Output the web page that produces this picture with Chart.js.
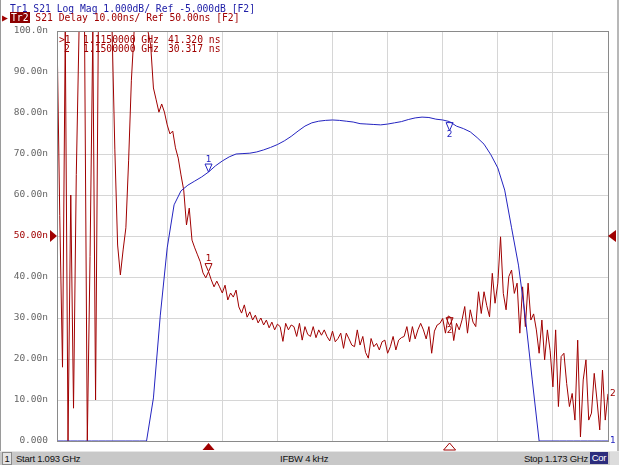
<!DOCTYPE html>
<html>
<head>
<meta charset="utf-8">
<script src="https://cdn.jsdelivr.net/npm/chart.js@4.4.0/dist/chart.umd.min.js"></script>
<style>
  html, body { margin: 0; padding: 0; background: #fff; }
  #screen { position: relative; width: 619px; height: 465px; overflow: hidden; background: #fff;
            font-family: "DejaVu Sans Mono", monospace; }
  #screen canvas { position: absolute; left: 0; top: 0; }
  .t { position: absolute; white-space: pre; font-size: 9.7px; line-height: 9px; }
  .tr1 { color: #2020a8; }
  .tr2 { color: #a00000; }
  #tr2box { background: #8c0000; color: #fff; padding: 0 1px; }
  #edgeL { position: absolute; left: 0; top: 0; width: 1px; height: 451px; background: #9a9a9a; }
  #edgeR { position: absolute; left: 617px; top: 0; width: 2px; height: 451px; background: #b8b8b8; }
  #status { position: absolute; left: 0; top: 451px; width: 619px; height: 14px; background: #c8c8c8;
            border-top: 1px solid #e6e6e6; box-sizing: border-box;
            font-family: "Liberation Sans", Arial, sans-serif; font-size: 9.5px; letter-spacing: -0.25px; color: #111; }
  #status span { position: absolute; top: 1px; line-height: 12px; white-space: pre; }
  #chNum { left: 2px; width: 8px; height: 11px; background: #e4e4e4; border: 1px solid #8a8a8a;
           text-align: center; top: 0 !important; }
  #cor { left: 590px; width: 18px; height: 12px; background: #2c2c7c; color: #fff; text-align: center; top: 0 !important; }
  #tail { left: 610px; width: 9px; height: 13px; background: #dcdcdc; top: 0 !important; }
</style>
</head>
<body>
<div id="screen">
  <canvas id="vna" width="619" height="465"></canvas>
  <div id="edgeL"></div>
  <div id="edgeR"></div>
  <div class="t tr1" style="left:10px; top:4px;">Tr1 S21 Log Mag 1.000dB/ Ref -5.000dB [F2]</div>
  <div class="t tr2" style="left:2px; top:13px;">&#9654;</div>
  <div class="t tr2" style="left:10px; top:13px;"><span id="tr2box">Tr2</span> S21 Delay 10.00ns/ Ref 50.00ns [F2]</div>
  <div class="t tr2" style="left:59px; top:35px;">&gt;1</div>
  <div class="t tr2" style="left:83px; top:35px;">1.1150000 GHz</div>
  <div class="t tr2" style="left:168px; top:35px;">41.320 ns</div>
  <div class="t tr2" style="left:64px; top:44px;">2</div>
  <div class="t tr2" style="left:83px; top:44px;">1.1500000 GHz</div>
  <div class="t tr2" style="left:168px; top:44px;">30.317 ns</div>
  <div id="status">
    <span id="chNum">1</span>
    <span style="left:16px;">Start 1.093 GHz</span>
    <span style="left:280px;">IFBW 4 kHz</span>
    <span style="right:31px;">Stop 1.173 GHz</span>
    <span id="cor">Cor</span>
    <span id="tail"></span>
  </div>
</div>
<script>
// 掃引条件 (MHz)
const startMHz = 1093;
const stopMHz = 1173;
const xTickMHz = [1093, 1101, 1109, 1117, 1125, 1133, 1141, 1149, 1157, 1165, 1173];
const yTickNs = [0, 10, 20, 30, 40, 50, 60, 70, 80, 90, 100];

// Tr2: S21 群遅延 (ns), 201 点 (表示範囲外は 0 / 100 でクリップ)
const delayNs = [
  100, 55, 18, 100, 0, 60, 8, 65, 100, 100,
  100, 0, 45, 100, 10, 100, 100, 100, 100, 100,
  100, 71, 47.8, 40.5, 46.6, 52, 68.5, 88, 100, 100,
  100, 100, 100, 100, 96.6, 86.1, 83.2, 80.2, 82.2, 80.2,
  77.1, 74.9, 75.6, 71.5, 69.0, 64.9, 61.2, 52.7, 56.8, 49.0,
  47.1, 45.4, 43.7, 41.0, 39.8, 41.3, 39.3, 37.6, 39.0, 37.6,
  36.1, 38.0, 34.4, 36.1, 35.1, 36.8, 32.7, 31.2, 33.2, 30.2,
  31.5, 29.5, 30.7, 28.8, 30.0, 28.3, 29.5, 27.6, 29.0, 27.1,
  28.5, 27.9, 24.3, 28.7, 27.1, 28.3, 27.9, 25.5, 28.7, 24.6,
  27.9, 26.0, 25.5, 27.9, 25.2, 27.1, 25.8, 27.1, 25.5, 24.4,
  26.8, 24.2, 25.0, 26.3, 22.6, 26.3, 24.9, 23.4, 23.0, 27.1,
  23.4, 25.5, 21.6, 20.2, 25.0, 23.0, 23.8, 22.2, 24.2, 24.6,
  21.4, 23.0, 25.5, 22.2, 24.6, 25.2, 25.5, 27.9, 24.2, 27.9,
  24.9, 27.1, 28.7, 27.1, 24.9, 27.9, 21.4, 26.8, 28.3, 28.7,
  29.9, 26.3, 30.5, 30.1, 24.5, 28.7, 27.1, 29.5, 32.8, 26.3,
  32.0, 29.0, 27.9, 36.4, 31.1, 36.4, 33.0, 30.3, 40.9, 33.6,
  38.5, 49.8, 36.0, 32.0, 40.1, 41.7, 36.0, 38.5, 26.3, 37.6,
  27.9, 38.5, 29.5, 31.0, 27.1, 21.4, 29.5, 19.8, 27.1, 22.0,
  13.2, 27.1, 8.4, 20.6, 21.4, 14.0, 8.4, 11.6, 5.1, 24.6,
  1.0, 14.9, 19.8, 5.1, 6.8, 16.5, 10.0, 2.7, 17.3, 5.1,
  11.5
];

// Tr1: S21 振幅 (dB), 1 MHz 間隔 81 点 (-10 dB 以下は下端でクリップ)
const logMagDb = [
  -10, -10, -10, -10, -10, -10, -10, -10, -10, -10,
  -10, -10, -10, -10, -8.95, -6.93, -5.29, -4.24, -3.90, -3.76,
  -3.66, -3.56, -3.44, -3.29, -3.17, -3.07, -3.00, -2.99, -2.98, -2.95,
  -2.90, -2.84, -2.77, -2.68, -2.57, -2.44, -2.32, -2.24, -2.20, -2.18,
  -2.17, -2.18, -2.20, -2.22, -2.26, -2.27, -2.28, -2.29, -2.27, -2.24,
  -2.21, -2.16, -2.12, -2.10, -2.11, -2.15, -2.17, -2.21, -2.32, -2.38,
  -2.46, -2.60, -2.76, -3.02, -3.34, -3.88, -4.80, -5.71, -6.98, -8.51,
  -10, -10, -10, -10, -10, -10, -10, -10, -10, -10,
  -10
];

// マーカー
const markerMHz = [1115, 1150];
const markerDelayNs = [41.320, 30.317];

const RED = '#a00000';
const BLUE = '#2424c0';

const stepOf = arr => (stopMHz - startMHz) / (arr.length - 1);
const delayPts = delayNs.map((v, i) => ({ x: startMHz + i * stepOf(delayNs), y: v }));
const magPts = logMagDb.map((v, i) => ({ x: startMHz + i * stepOf(logMagDb), y: v }));

// 振幅トレース上のマーカー値 (線形補間)
function interp(pts, f) {
  for (let i = 1; i < pts.length; i++) {
    if (pts[i].x >= f) {
      const a = pts[i - 1], b = pts[i];
      return a.y + (b.y - a.y) * (f - a.x) / (b.x - a.x);
    }
  }
  return pts[pts.length - 1].y;
}

function triangle(ctx, pts, fill, color) {
  ctx.beginPath();
  ctx.moveTo(pts[0][0], pts[0][1]);
  ctx.lineTo(pts[1][0], pts[1][1]);
  ctx.lineTo(pts[2][0], pts[2][1]);
  ctx.closePath();
  if (fill) { ctx.fillStyle = color; ctx.fill(); }
  else { ctx.strokeStyle = color; ctx.lineWidth = 1; ctx.stroke(); }
}

// マーカー・基準位置の三角形などを描くプラグイン
const vnaOverlay = {
  id: 'vnaOverlay',
  afterDatasetsDraw(chart) {
    const { ctx, chartArea: { left, right, top, bottom } } = chart;
    const xs = chart.scales.x, yd = chart.scales.y, ym = chart.scales.yb;
    ctx.save();

    // 枠
    ctx.strokeStyle = '#8a8a8a';
    ctx.lineWidth = 1;
    ctx.strokeRect(Math.round(left) + 0.5, Math.round(top) + 0.5, Math.round(right - left), Math.round(bottom - top));

    ctx.font = '9px "DejaVu Sans"';
    ctx.textAlign = 'center';

    markerMHz.forEach((f, i) => {
      const px = xs.getPixelForValue(f);
      const traces = [
        { y: yd.getPixelForValue(markerDelayNs[i]), c: RED },
        { y: ym.getPixelForValue(interp(magPts, f)), c: BLUE }
      ];
      traces.forEach(t => {
        if (i === 0) {
          triangle(ctx, [[px - 3.5, t.y - 8], [px + 3.5, t.y - 8], [px, t.y]], false, t.c);
          ctx.textBaseline = 'bottom';
          ctx.fillStyle = t.c;
          ctx.fillText(String(i + 1), px, t.y - 8);
        } else {
          triangle(ctx, [[px - 3.5, t.y + 1], [px + 3.5, t.y + 1], [px, t.y + 9]], false, t.c);
          ctx.textBaseline = 'top';
          ctx.fillStyle = t.c;
          ctx.fillText(String(i + 1), px, t.y + 9);
        }
      });
      // 下端の位置表示
      const b = bottom + 2;
      triangle(ctx, [[px - 6, b + 7], [px + 6, b + 7], [px, b]], i === 0, RED);
    });

    // 基準位置 (50 ns)
    const ry = yd.getPixelForValue(50);
    triangle(ctx, [[left - 7, ry - 6], [left - 7, ry + 6], [left, ry]], true, RED);
    triangle(ctx, [[right + 8, ry - 6], [right + 8, ry + 6], [right, ry]], true, RED);

    // トレース番号 (右端)
    ctx.textAlign = 'left';
    ctx.textBaseline = 'middle';
    ctx.fillStyle = RED;
    ctx.fillText('2', right + 2, yd.getPixelForValue(delayNs[delayNs.length - 1]));
    ctx.fillStyle = BLUE;
    ctx.fillText('1', right + 2, ym.getPixelForValue(logMagDb[logMagDb.length - 1]));

    ctx.restore();
  }
};

const gridColor = edges => c => (edges.includes(c.tick.value) ? '#8a8a8a' : '#d6d6d6');

new Chart(document.getElementById('vna').getContext('2d'), {
  type: 'line',
  data: {
    datasets: [
      { label: 'Tr1 S21 Log Mag', data: magPts, yAxisID: 'yb', borderColor: BLUE, borderWidth: 1, order: 0 },
      { label: 'Tr2 S21 Delay', data: delayPts, yAxisID: 'y', borderColor: RED, borderWidth: 1, order: 1 }
    ]
  },
  options: {
    responsive: false,
    animation: false,
    events: [],
    layout: { padding: { top: 31, right: 11, bottom: 24, left: 0 } },
    elements: { point: { radius: 0 }, line: { tension: 0 } },
    plugins: { legend: { display: false }, tooltip: { enabled: false } },
    scales: {
      x: {
        type: 'linear', min: startMHz, max: stopMHz,
        afterBuildTicks: s => { s.ticks = xTickMHz.map(v => ({ value: v })); },
        afterFit: s => { s.height = 0; },
        ticks: { display: false },
        border: { display: false },
        grid: { drawTicks: false, color: gridColor([startMHz, stopMHz]), lineWidth: 1 }
      },
      y: {
        position: 'left', min: 0, max: 100,
        afterBuildTicks: s => { s.ticks = yTickNs.map(v => ({ value: v })); },
        afterFit: s => { s.width = 57; },
        border: { display: false },
        grid: { drawTicks: false, color: gridColor([0, 100]), lineWidth: 1 },
        ticks: {
          padding: 9,
          font: { family: '"DejaVu Sans Mono"', size: 9.5 },
          color: c => (c.tick.value === 50 ? RED : '#666666'),
          callback: v => (v === 100 ? '100.0n' : v === 0 ? '0.000' : v.toFixed(2) + 'n')
        }
      },
      yb: { display: false, min: -10, max: 0 }
    }
  },
  plugins: [vnaOverlay]
});
</script>
</body>
</html>
